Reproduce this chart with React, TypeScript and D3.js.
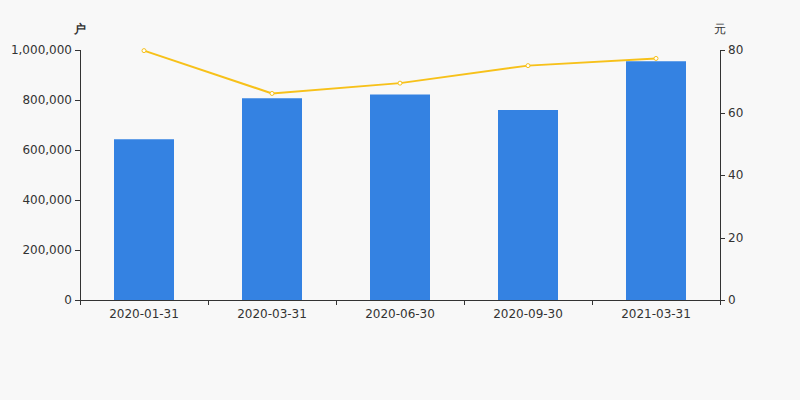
import React from "react";
import * as d3 from "d3";

const categories = ["2020-01-31", "2020-03-31", "2020-06-30", "2020-09-30", "2021-03-31"];
const holders = [643000, 807000, 822000, 760000, 955000];
const avgValue = [79.8, 66.1, 69.4, 75.0, 77.3];
const leftTicks = [0, 200000, 400000, 600000, 800000, 1000000];
const rightTicks = [0, 20, 40, 60, 80];

const W = 800, H = 400;
const M = { left: 80, right: 80, top: 50, bottom: 100 };
const FONT = "DejaVu Sans, sans-serif";
const TXT = "#333";

export default function App() {
  const x = d3.scaleBand<string>().domain(categories).range([M.left, W - M.right]);
  const yL = d3.scaleLinear().domain([0, 1000000]).range([H - M.bottom, M.top]);
  const yR = d3.scaleLinear().domain([0, 80]).range([H - M.bottom, M.top]);
  const barW = 60;
  const fmt = d3.format(",");
  const line = d3
    .line<number>()
    .x((_, i) => (x(categories[i]) as number) + x.bandwidth() / 2)
    .y((d) => yR(d));
  const y0 = H - M.bottom;
  const boundaries = d3.range(categories.length + 1).map((i) => M.left + i * x.bandwidth());

  return (
    <svg width={W} height={H} style={{ position: "absolute", left: 0, top: 0, background: "#f8f8f8" }} fontFamily={FONT}>
      <rect x={0} y={0} width={W} height={H} fill="#f8f8f8" />
      {categories.map((c, i) => (
        <rect
          key={c}
          x={(x(c) as number) + (x.bandwidth() - barW) / 2}
          y={yL(holders[i])}
          width={barW}
          height={y0 - yL(holders[i])}
          fill="#3482e2"
        />
      ))}
      <path d={line(avgValue) || ""} fill="none" stroke="#f7c11a" strokeWidth={2} />
      {avgValue.map((v, i) => (
        <circle
          key={i}
          cx={(x(categories[i]) as number) + x.bandwidth() / 2}
          cy={yR(v)}
          r={2}
          fill="#fff"
          stroke="#f7c11a"
          strokeWidth={1}
        />
      ))}
      {/* left axis */}
      <line x1={M.left + 0.5} x2={M.left + 0.5} y1={M.top} y2={y0} stroke={TXT} />
      {leftTicks.map((t) => (
        <g key={t}>
          <line x1={M.left - 5} x2={M.left} y1={Math.round(yL(t)) + 0.5} y2={Math.round(yL(t)) + 0.5} stroke={TXT} />
          <text x={M.left - 8} y={yL(t)} dy="0.35em" textAnchor="end" fontSize={12} fill={TXT}>
            {fmt(t)}
          </text>
        </g>
      ))}
      {/* right axis */}
      <line x1={W - M.right + 0.5} x2={W - M.right + 0.5} y1={M.top} y2={y0} stroke={TXT} />
      {rightTicks.map((t) => (
        <g key={t}>
          <line x1={W - M.right} x2={W - M.right + 5} y1={Math.round(yR(t)) + 0.5} y2={Math.round(yR(t)) + 0.5} stroke={TXT} />
          <text x={W - M.right + 8} y={yR(t)} dy="0.35em" textAnchor="start" fontSize={12} fill={TXT}>
            {t}
          </text>
        </g>
      ))}
      {/* x axis */}
      <line x1={M.left} x2={W - M.right} y1={y0 + 0.5} y2={y0 + 0.5} stroke={TXT} />
      {boundaries.map((b) => (
        <line key={b} x1={b + 0.5} x2={b + 0.5} y1={y0} y2={y0 + 5} stroke={TXT} />
      ))}
      {categories.map((c) => (
        <text key={c} x={(x(c) as number) + x.bandwidth() / 2} y={y0 + 14} dy="0.35em" textAnchor="middle" fontSize={12} fill={TXT}>
          {c}
        </text>
      ))}
      <text x={M.left} y={29} dy="0.35em" textAnchor="middle" fontSize={12} fill={TXT} fontWeight="bold">户</text>
      <text x={W - M.right} y={29} dy="0.35em" textAnchor="middle" fontSize={12} fill={TXT}>元</text>
    </svg>
  );
}
